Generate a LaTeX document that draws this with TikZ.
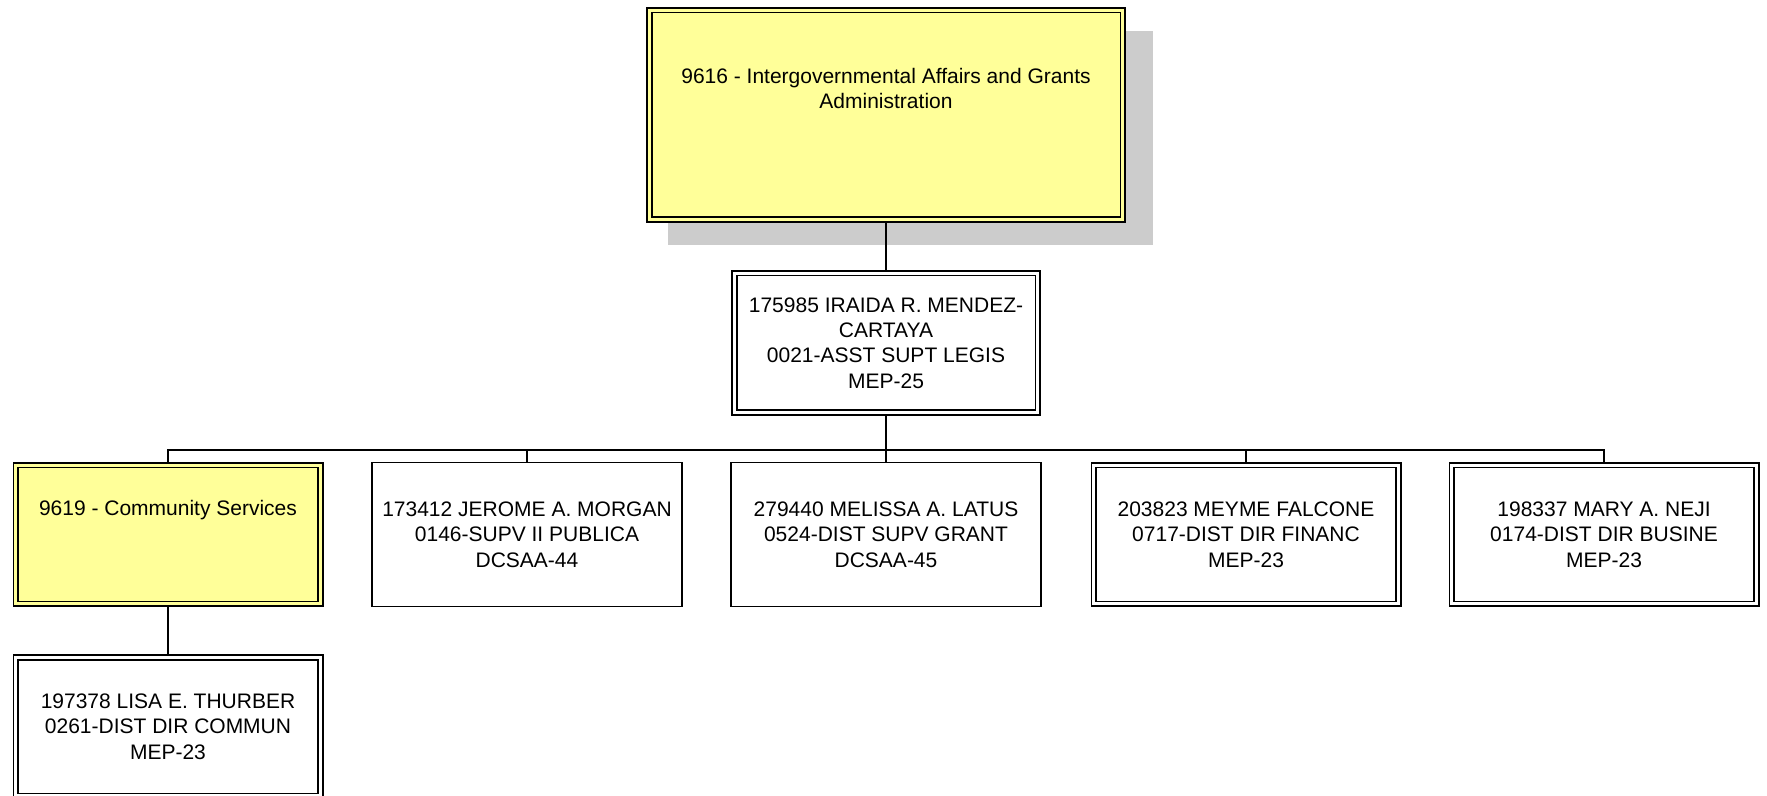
\documentclass[tikz,border=0pt]{standalone}
\usepackage{fontspec}
\setmainfont{Liberation Sans}
\usetikzlibrary{shadows}
\definecolor{unityellow}{HTML}{FFFF99}
\definecolor{shadowgray}{HTML}{CCCCCC}
\tikzset{
	unit box/.style={
		draw,
		line width = 0.8pt,
		double = white,
		double distance = 1.65pt,
		minimum width = 152.25pt,
		minimum height = 69.25pt,
		inner sep =+ 0pt,
		outer sep = 1.625pt,
		align = center,
		font = \fontsize{10.5}{12.7}\selectfont
	},
	unit yellow/.style={
		unit box,
		fill = unityellow,
		double = unityellow
	},
	person box/.style={
		draw,
		line width = 0.8pt,
		minimum width = 155pt,
		minimum height = 72pt,
		inner sep =+ 0pt,
		outer sep = 0.4pt,
		align = center,
		font = \fontsize{10.5}{12.7}\selectfont
	},
	org line/.style={line width=0.75pt}
}

\begin{document}
\begin{tikzpicture}[x=0.5pt, y=-0.5pt]
\useasboundingbox (0,0) rectangle (1767,796);

\node[unit yellow, minimum width=236.75pt, minimum height=104.75pt,
	text height=20.7pt, text depth=26.8pt,
	general shadow={fill=shadowgray, shadow xshift=12pt, shadow yshift=-11.25pt,
		shadow scale=1.025}]
	(igaga) at (886,115) {9616 - Intergovernmental Affairs and Grants\\Administration};

\node[unit box, minimum width=151.75pt, minimum height=69.75pt] (mendez) at (886,343)
	{175985 IRAIDA R. MENDEZ-\\CARTAYA\\0021-ASST SUPT LEGIS\\MEP-25};

\coordinate (bus) at (886,450);

\node[unit yellow, text height=7.7pt, text depth=26.7pt] (community) at (168,534.5) {9619 - Community Services};
\node[person box] (morgan)  at (527,534.5)  {173412 JEROME A. MORGAN\\0146-SUPV II PUBLICA\\DCSAA-44};
\node[person box] (latus)   at (886,534.5)  {279440 MELISSA A. LATUS\\0524-DIST SUPV GRANT\\DCSAA-45};
\node[unit box]   (falcone) at (1246,534.5) {203823 MEYME FALCONE\\0717-DIST DIR FINANC\\MEP-23};
\node[unit box]   (neji)    at (1604,534.5) {198337 MARY A. NEJI\\0174-DIST DIR BUSINE\\MEP-23};

\node[unit box] (thurber) at (168,726.5) {197378 LISA E. THURBER\\0261-DIST DIR COMMUN\\MEP-23};

\draw[org line] (igaga.south) -- (mendez.north);
\draw[org line] (mendez.south) -- (mendez.south |- bus);
\foreach \u in {community,morgan,latus,falcone,neji}
	\draw[org line] (mendez.south |- bus) -| (\u.north);
\draw[org line] (community.south) -- (thurber.north);

\end{tikzpicture}
\end{document}
